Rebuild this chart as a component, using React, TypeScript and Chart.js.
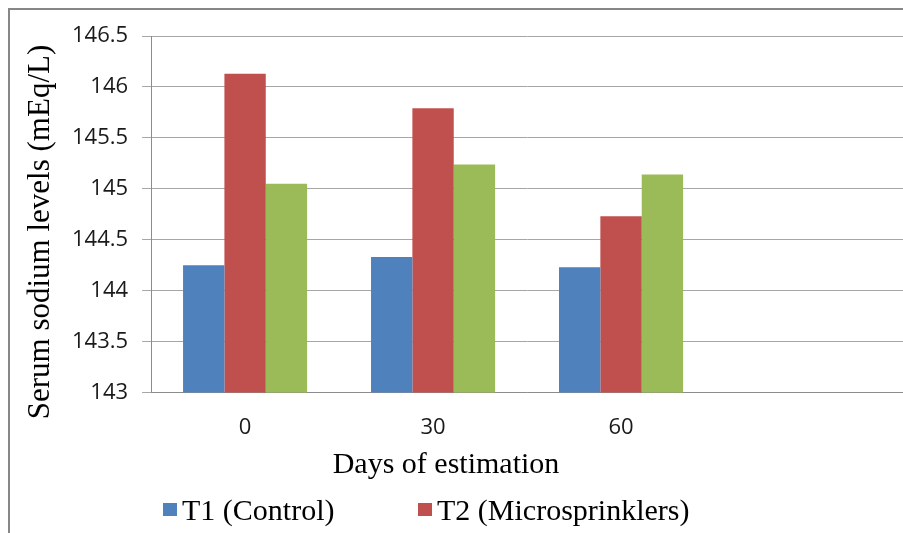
import React, { useEffect, useRef } from "react";
import { Chart, registerables } from "chart.js";

Chart.register(...registerables);

// ---- data ----
const categories = ["0", "30", "60", ""];
const t1Control = [144.25, 144.33, 144.23, null];
const t2Microsprinklers = [146.13, 145.79, 144.73, null];
const t3Series = [145.05, 145.24, 145.14, null];
const seriesLabels = ["T1 (Control)", "T2 (Microsprinklers)", "T3"];
const seriesColors = ["#4F81BD", "#C0504D", "#9BBB59"];
const yMin = 143;
const yMax = 146.5;
const yStep = 0.5;
const xTitle = "Days of estimation";
const yTitle = "Serum sodium levels (mEq/L)";

const SERIF = '"Liberation Serif", "Times New Roman", serif';
const SANS = '"Open Sans", "Liberation Sans", sans-serif';

const overlayPlugin = {
  id: "excelOverlay",
  afterDraw(chart: any) {
    const ctx = chart.ctx as CanvasRenderingContext2D;
    ctx.save();
    ctx.fillStyle = "#000000";
    ctx.font = `30px ${SERIF}`;
    ctx.textAlign = "center";
    ctx.textBaseline = "alphabetic";
    ctx.fillText(xTitle, 446, 473);
    ctx.restore();

    ctx.save();
    ctx.fillStyle = "#000000";
    ctx.font = `31px ${SERIF}`;
    ctx.textAlign = "center";
    ctx.textBaseline = "alphabetic";
    ctx.translate(49, 232);
    ctx.rotate(-Math.PI / 2);
    ctx.fillText(yTitle, 0, 0);
    ctx.restore();

    // legend (only the first line is visible in the frame)
    const legendX = [163, 418];
    const datasets = chart.data.datasets;
    ctx.save();
    ctx.font = `30px ${SERIF}`;
    ctx.textAlign = "left";
    ctx.textBaseline = "alphabetic";
    for (let i = 0; i < legendX.length; i++) {
      const ds = datasets[i];
      ctx.fillStyle = ds.backgroundColor as string;
      ctx.fillRect(legendX[i], 503, 14, 13);
      ctx.fillStyle = "#000000";
      ctx.fillText(ds.label, legendX[i] + 19, 520);
    }
    ctx.restore();
  },
};

export default function App() {
  const canvasRef = useRef<HTMLCanvasElement | null>(null);

  useEffect(() => {
    if (!canvasRef.current) return;
    const chart = new Chart(canvasRef.current, {
      type: "bar",
      data: {
        labels: categories,
        datasets: [
          { label: seriesLabels[0], data: t1Control, backgroundColor: seriesColors[0] },
          { label: seriesLabels[1], data: t2Microsprinklers, backgroundColor: seriesColors[1] },
          { label: seriesLabels[2], data: t3Series, backgroundColor: seriesColors[2] },
        ],
      },
      options: {
        responsive: false,
        animation: false,
        devicePixelRatio: 1,
        datasets: { bar: { categoryPercentage: 0.66, barPercentage: 1.0, borderWidth: 0 } },
        layout: { padding: { left: 58, top: 36, right: 0, bottom: 70 } },
        plugins: {
          legend: { display: false },
          tooltip: { enabled: false },
          title: { display: false },
        },
        scales: {
          x: {
            grid: { display: false, drawTicks: false },
            border: { display: true, color: "#8c8c8c", width: 1 },
            ticks: {
              font: { family: SANS, size: 22 },
              color: "#1a1a1a",
              padding: 22,
              maxRotation: 0,
              autoSkip: false,
            },
          },
          y: {
            min: yMin,
            max: yMax,
            ticks: {
              stepSize: yStep,
              font: { family: SANS, size: 22 },
              color: "#1a1a1a",
              padding: 14,
              callback: (v: any) => String(v),
            },
            grid: { color: "#a6a6a6", lineWidth: 1, tickLength: 9, drawTicks: true },
            border: { display: true, color: "#8c8c8c", width: 1 },
          },
        },
      },
      plugins: [overlayPlugin],
    } as any);
    return () => chart.destroy();
  }, []);

  return (
    <div style={{ position: "fixed", left: 0, top: 0, width: 903, height: 533, background: "#ffffff" }}>
      <div
        style={{
          position: "absolute",
          left: 8,
          top: 8,
          width: 895,
          height: 525,
          boxSizing: "border-box",
          borderLeft: "2px solid #878787",
          borderTop: "2px solid #878787",
        }}
      />
      <canvas
        ref={canvasRef}
        width={903}
        height={533}
        style={{ position: "absolute", left: 0, top: 0, width: 903, height: 533 }}
      />
    </div>
  );
}
